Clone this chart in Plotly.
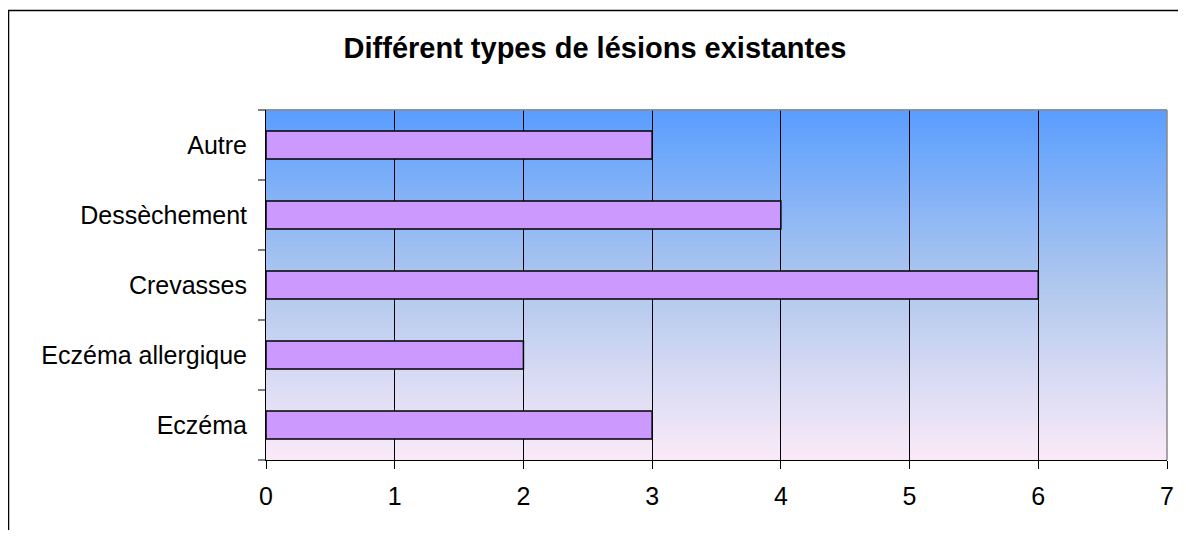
import plotly.graph_objects as go

categories = ["Eczéma", "Eczéma allergique", "Crevasses", "Dessèchement", "Autre"]
values = [3, 2, 6, 4, 3]
x_ticks = [0, 1, 2, 3, 4, 5, 6, 7]
title_text = "Différent types de lésions existantes"

# page offset of 8px (body margin) is compensated here
OFF = 8
W, H = 1170, 522
PL, PT, PR, PB = 266, 110, 1167, 460   # plot area in page pixels
ml, mt = PL - OFF, PT - OFF
mr = W - (PR - OFF)
mb = H - (PB - OFF)
pw, ph = PR - PL, PB - PT

fig = go.Figure()
fig.add_trace(go.Bar(
    y=categories, x=values, orientation="h",
    marker=dict(color="#CC99FF", line=dict(color="#000000", width=1.5)),
    width=0.4, hoverinfo="x+y",
))

# gradient background (top blue -> bottom pink)
top = (91, 158, 255)
mid = (176, 200, 238)
bot = (250, 234, 248)
n = 80
shapes = []
for i in range(n):
    t = i / (n - 1)  # 0 bottom -> 1 top
    if t < 0.5:
        a, b, s = bot, mid, t / 0.5
    else:
        a, b, s = mid, top, (t - 0.5) / 0.5
    c = tuple(round(a[k] + (b[k] - a[k]) * s) for k in range(3))
    shapes.append(dict(type="rect", xref="x domain", yref="y domain",
                       x0=0, x1=1, y0=i / n, y1=(i + 1) / n + 0.002,
                       fillcolor="rgb(%d,%d,%d)" % c, line=dict(width=0), layer="below"))
# plot area border (top/right grey)
shapes.append(dict(type="line", xref="x domain", yref="y domain", x0=0, x1=1, y0=1, y1=1,
                   line=dict(color="#8a8a8a", width=1.5)))
shapes.append(dict(type="line", xref="x domain", yref="y domain", x0=1, x1=1, y0=0, y1=1,
                   line=dict(color="#8a8a8a", width=1.5)))
# outer chart border
shapes.append(dict(type="rect", xref="paper", yref="paper",
                   x0=(8.5 - PL) / pw, x1=(1230 - PL) / pw,
                   y0=-(600 - PB) / ph, y1=1 + (PT - 10.5) / ph,
                   line=dict(color="#000000", width=1.5), fillcolor="rgba(0,0,0,0)", layer="above"))

fig.update_layout(
    width=W, height=H,
    margin=dict(l=ml, r=mr, t=mt, b=mb, autoexpand=False),
    paper_bgcolor="white", plot_bgcolor="rgba(0,0,0,0)",
    showlegend=False, bargap=0.6,
    font=dict(family="Liberation Sans, Arial, sans-serif", size=25, color="#000000"),
    title=dict(text="<b>" + title_text + "</b>", x=(595 - PL) / pw, xref="paper", xanchor="center",
               y=1 - (48 - OFF) / H, yanchor="middle",
               font=dict(family="Liberation Sans, Arial, sans-serif", size=29, color="#000000")),
    shapes=shapes,
    xaxis=dict(range=[0, 7], tickvals=x_ticks, showgrid=True, gridcolor="#000000", gridwidth=1,
               zeroline=False, showline=True, linecolor="#000000", linewidth=1, automargin=False,
               ticks="outside", ticklen=8, tickcolor="#000000", ticklabelstandoff=6, fixedrange=True),
    yaxis=dict(categoryorder="array", categoryarray=categories, range=[-0.5, 4.5],
               showgrid=False, zeroline=False, showline=True, linecolor="#000000", linewidth=1,
               automargin=False, ticks="", ticklabelstandoff=13, fixedrange=True),
)
# y ticks at category boundaries (outside, left)
for b in [0.0, 0.2, 0.4, 0.6, 0.8, 1.0]:
    fig.add_shape(type="line", xref="paper", yref="y domain", x0=-8 / pw, x1=0, y0=b, y1=b,
                  line=dict(color="#000000", width=1))

fig.write_html("out.html")
